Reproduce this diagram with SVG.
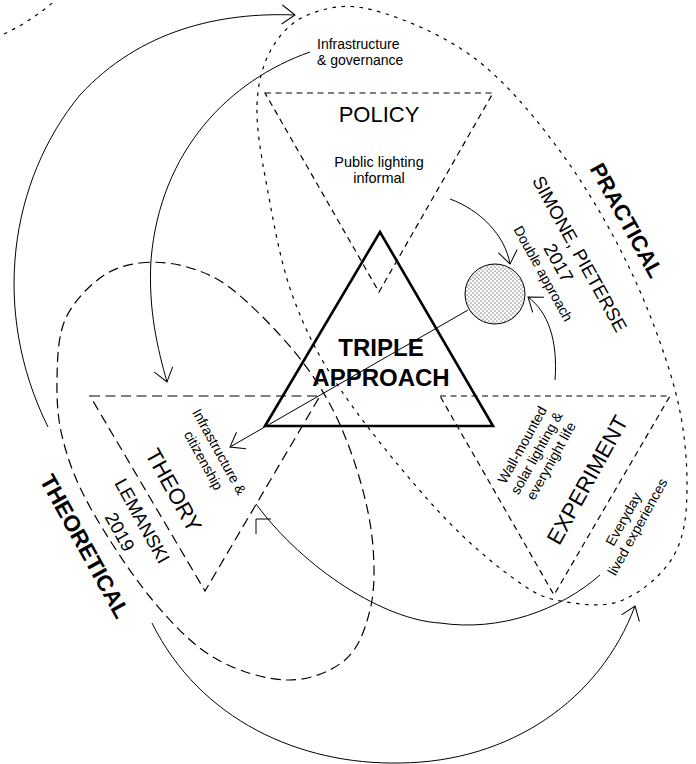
<svg xmlns="http://www.w3.org/2000/svg" width="696" height="764" viewBox="0 0 696 764">
<defs>
<style>
.solid{fill:none;stroke:#000;stroke-width:1}
.dot{fill:none;stroke:#000;stroke-width:1.2;stroke-dasharray:3.5 5.5}
.dash{fill:none;stroke:#000;stroke-width:1.2;stroke-dasharray:6 4.5}
.ldash{fill:none;stroke:#000;stroke-width:1.2;stroke-dasharray:10 5.5}
text{font-family:"Liberation Sans",Arial,sans-serif;fill:#000}
.s14{font-size:14px}
.s18{font-size:18.5px}
.s22{font-size:22px}
.b{font-weight:bold}
.m{text-anchor:middle}
</style>
<marker id="arr" markerUnits="userSpaceOnUse" viewBox="-15 -11 17 22" refX="0" refY="0" markerWidth="17" markerHeight="22" orient="auto" overflow="visible">
<path d="M-13,-9.5 L0,0 L-13,9.5" fill="none" stroke="#000" stroke-width="1"/>
</marker>
<pattern id="dots" patternUnits="userSpaceOnUse" width="4" height="4">
<rect width="4" height="4" fill="#fff"/>
<circle cx="1" cy="1" r="0.55" fill="#000"/>
<circle cx="3" cy="3" r="0.55" fill="#000"/>
</pattern>
</defs>
<rect width="696" height="764" fill="#fff"/>

<g id="outer-arc">
<path class="dot" d="M4,34 Q30,22 56,0"/>
</g>

<g id="practical">
<path class="dot" d="M257,105 C257.8,81.8 263.2,63.2 272,48 C280.8,32.8 293.2,20.3 310,14 C326.8,7.7 345.8,2.8 373,10 C400.2,17.2 442.3,34.2 473,57 C503.7,79.8 531.3,112.7 557,147 C582.7,181.3 607.3,222.5 627,263 C646.7,303.5 665,352.2 675,390 C685,427.8 687.3,462.2 687,490 C686.7,517.8 683.7,538.7 673,557 C662.3,575.3 640.7,592.5 623,600 C605.3,607.5 584.2,604.8 567,602 C549.8,599.2 541.2,597.8 520,583 C498.8,568.2 469.5,544.7 440,513 C410.5,481.3 367.5,429 343,393 C318.5,357 305.7,331.3 293,297 C280.3,262.7 273,219 267,187 C261,155 256.2,128.2 257,105 Z"/>
<text class="b m" font-size="22" transform="translate(620,224) rotate(61)">PRACTICAL</text>
<text class="s18 m" transform="translate(574,257) rotate(61)">SIMONE, PIETERSE</text>
<text class="s18 m" transform="translate(553,266) rotate(61)">2017</text>
</g>

<g id="theoretical">
<path class="ldash" d="M140,263 C154.5,261.2 171.5,262.5 187,267 C202.5,271.5 215.3,276.2 233,290 C250.7,303.8 276.3,330 293,350 C309.7,370 321.8,388.3 333,410 C344.2,431.7 353.3,457.2 360,480 C366.7,502.8 371.3,525.3 373,547 C374.7,568.7 374.7,591.2 370,610 C365.3,628.8 358.8,648.3 345,660 C331.2,671.7 309,680.5 287,680 C265,679.5 235.8,670.8 213,657 C190.2,643.2 170.5,622 150,597 C129.5,572 104.5,533.2 90,507 C75.5,480.8 68.5,461.2 63,440 C57.5,418.8 56.7,400 57,380 C57.3,360 57.8,337 65,320 C72.2,303 87.5,287.5 100,278 C112.5,268.5 125.5,264.8 140,263 Z"/>
<text class="b m" font-size="22.5" transform="translate(78,550) rotate(61)">THEORETICAL</text>
<text class="s18 m" transform="translate(136.6,524) rotate(61)">LEMANSKI</text>
<text class="s18 m" transform="translate(114.3,535) rotate(61)">2019</text>
</g>

<g id="policy">
<polygon class="dash" points="265,93 493,93 379,292"/>
<text class="s22 m" x="379" y="122">POLICY</text>
<text class="m" font-size="14.5" x="379" y="167">Public lighting</text>
<text class="m" font-size="14.5" x="379" y="183">informal</text>
</g>

<g id="theory">
<polygon class="ldash" points="90,396 320,396 205,591"/>
<text class="s22 m" transform="translate(167,494) rotate(61)">THEORY</text>
</g>

<g id="experiment">
<polygon class="dash" points="440,396 670,396 554,595"/>
<text class="s22 m" transform="translate(594,483.6) rotate(-61)">EXPERIMENT</text>
<text class="s14 m" transform="translate(627.7,521.5) rotate(-61)"><tspan x="0" y="0">Everyday</tspan><tspan x="0" y="16">lived experiences</tspan></text>
<text class="s14 m" transform="translate(526.4,447.3) rotate(-61)"><tspan x="0" y="0">Wall-mounted</tspan><tspan x="0" y="16.5">solar lighting &amp;</tspan><tspan x="0" y="33">everynight life</tspan></text>
</g>

<g id="triple">
<polygon points="380,232 265,426 493,426" fill="none" stroke="#000" stroke-width="2.6" stroke-linejoin="miter"/>
<text class="b m" font-size="24" x="381" y="356">TRIPLE</text>
<text class="b m" font-size="24" x="381" y="386">APPROACH</text>
</g>

<g id="double-approach">
<circle cx="495" cy="294" r="30" fill="url(#dots)" stroke="#000" stroke-width="1"/>
<text class="m" font-size="14" transform="translate(539,276) rotate(61)">Double approach</text>
</g>

<g id="connectors">
<path class="solid" marker-end="url(#arr)" d="M48,427 C-10,310 10,180 80,95 C140,30 220,12 295,15"/>
<path class="solid" marker-end="url(#arr)" d="M310,52 C230,80 160,150 151,260 C148,310 158,350 167,382"/>
<path class="solid" marker-end="url(#arr)" d="M450,199 C480,210 505,235 510,264"/>
<path class="solid" marker-end="url(#arr)" d="M555,380 C558,340 548,312 528,297"/>
<path class="solid" marker-end="url(#arr)" d="M468,310 L230,447"/>
<path class="solid" d="M600,575 C560,610 500,632 440,623 C385,620 305,570 256,504"/>
<path class="solid" d="M271,519 L256,519 L256,534"/>
<path class="solid" marker-end="url(#arr)" d="M152,623 C200,720 300,765 400,763 C510,762 600,700 635,606"/>
<text class="s14" x="317" y="49">Infrastructure</text>
<text class="s14" x="317" y="65">&amp; governance</text>
<text class="s14 m" transform="translate(215,454) rotate(61)"><tspan x="0" y="0">Infrastructure &amp;</tspan><tspan x="0" y="18">citizenship</tspan></text>
</g>
</svg>
